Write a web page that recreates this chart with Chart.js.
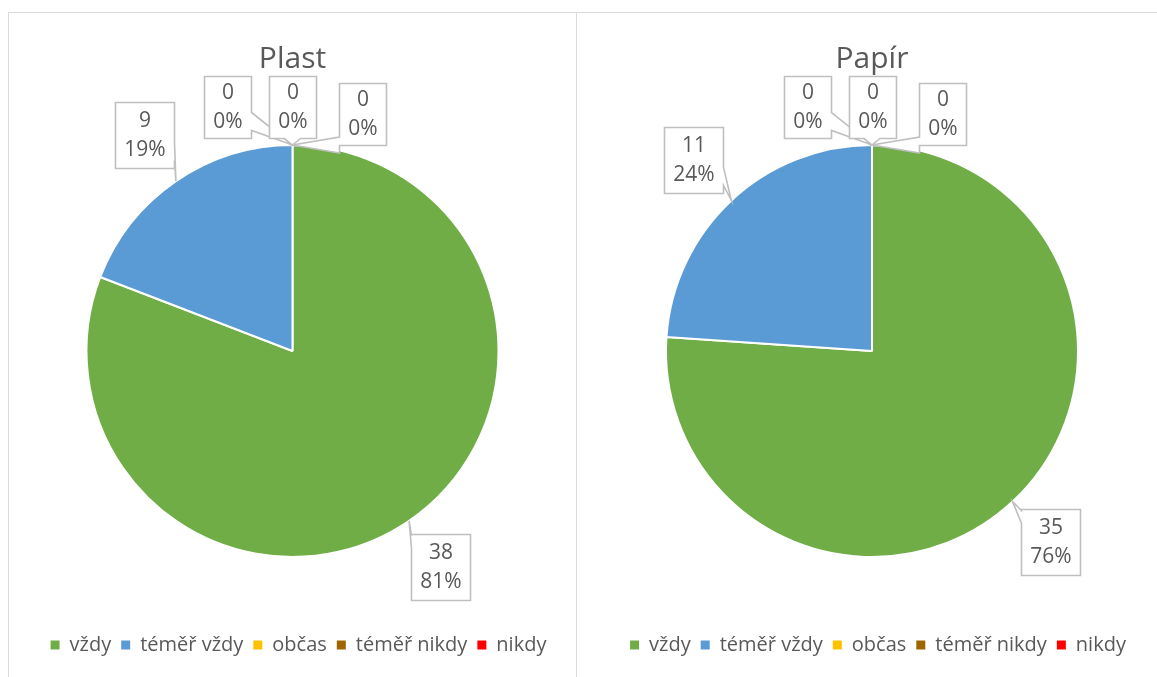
<!DOCTYPE html>
<html><head><meta charset="utf-8">
<script src="https://cdn.jsdelivr.net/npm/chart.js@4.4.1/dist/chart.umd.min.js"></script>
<style>
html,body{margin:0;padding:0;background:#fff;overflow:hidden;width:1157px;height:677px;position:relative;}
.panel{position:absolute;border:1px solid #d9d9d9;box-sizing:border-box;}
.box{position:absolute;}
</style></head><body>
<div class="panel" style="left:8px;top:12px;width:569px;height:700px"></div>
<div class="panel" style="left:576px;top:12px;width:620px;height:700px"></div>
<div class="box" style="left:8px;top:12px;width:569px;height:665px"><canvas id="c1"></canvas></div>
<div class="box" style="left:577px;top:12px;width:590px;height:665px"><canvas id="c2"></canvas></div>
<script>
const categories = ['vždy', 'téměř vždy', 'občas', 'téměř nikdy', 'nikdy'];
const plastValues = [38, 9, 0, 0, 0];
const papirValues = [35, 11, 0, 0, 0];
const chartTitles = ['Plast', 'Papír'];
const sliceColors = ['#70AD47', '#5B9BD5', '#FFC000', '#9E6500', '#FF0000'];

const TEXT = '#595959';
const FONT = '"Open Sans", "DejaVu Sans", sans-serif';
Chart.defaults.font.family = FONT;

const legendShift = {
  id: 'legendShift',
  afterLayout(chart) {
    const lg = chart.legend;
    if (lg) { lg.left += 6; lg.right += 6; }
  }
};

const callouts = {
  id: 'callouts',
  afterDraw(chart) {
    const ctx = chart.ctx;
    const meta = chart.getDatasetMeta(0);
    const data = chart.data.datasets[0].data;
    const total = data.reduce((a, b) => a + b, 0);
    const zeroOffsets = [[-65, -38], [0, -38], [70, -31]];
    let zi = 0;
    ctx.save();
    ctx.font = '21px ' + FONT;
    meta.data.forEach((arc, i) => {
      const p = arc.getProps(['x', 'y', 'startAngle', 'endAngle', 'outerRadius'], true);
      const v = data[i];
      const lines = [String(v), Math.round(v / total * 100) + '%'];
      const tw = Math.max(...lines.map(s => ctx.measureText(s).width));
      const bw = Math.round(tw + 18);
      const bh = v === 0 ? 62 : 66;
      let bx, by, tx, ty;
      if (v === 0) {
        const o = zeroOffsets[zi++] || [0, -38];
        tx = p.x + Math.cos(p.startAngle) * p.outerRadius;
        ty = p.y + Math.sin(p.startAngle) * p.outerRadius;
        bx = p.x + o[0];
        by = p.y - p.outerRadius + o[1];
      } else {
        const mid = (p.startAngle + p.endAngle) / 2;
        tx = p.x + Math.cos(mid) * p.outerRadius;
        ty = p.y + Math.sin(mid) * p.outerRadius;
        const d = p.outerRadius + 56;
        bx = p.x + Math.cos(mid) * d;
        by = p.y + Math.sin(mid) * d;
      }
      const L = Math.round(bx - bw / 2) + 0.5, R = L + bw;
      const T = Math.round(by - bh / 2) + 0.5, B = T + bh;
      let side;
      if (tx > R) side = 'right';
      else if (tx < L) side = 'left';
      else if (ty > B) side = 'bottom';
      else side = 'top';
      let b1, b2;
      if (side === 'right' || side === 'left') {
        if (ty > B) { b2 = B - 8; b1 = b2 - 18; }
        else if (ty < T) { b1 = T + 1; b2 = b1 + 13; }
        else { b1 = ty - 8; b2 = ty + 8; }
      } else {
        b1 = Math.max(L + 4, Math.min(R - 20, tx - 8));
        b2 = b1 + 16;
      }
      ctx.beginPath();
      ctx.moveTo(L, T);
      if (side === 'top') { ctx.lineTo(b1, T); ctx.lineTo(tx, ty); ctx.lineTo(b2, T); }
      ctx.lineTo(R, T);
      if (side === 'right') { ctx.lineTo(R, b1); ctx.lineTo(tx, ty); ctx.lineTo(R, b2); }
      ctx.lineTo(R, B);
      if (side === 'bottom') { ctx.lineTo(b2, B); ctx.lineTo(tx, ty); ctx.lineTo(b1, B); }
      ctx.lineTo(L, B);
      if (side === 'left') { ctx.lineTo(L, b2); ctx.lineTo(tx, ty); ctx.lineTo(L, b1); }
      ctx.closePath();
      ctx.fillStyle = '#ffffff';
      ctx.fill();
      ctx.strokeStyle = '#BFBFBF';
      ctx.lineWidth = 1.6;
      ctx.stroke();
      ctx.fillStyle = TEXT;
      ctx.textAlign = 'center';
      ctx.textBaseline = 'middle';
      const cy = (T + B) / 2;
      ctx.fillText(lines[0], (L + R) / 2, cy - 14);
      ctx.fillText(lines[1], (L + R) / 2, cy + 15);
    });
    ctx.restore();
  }
};

function makePie(id, title, values) {
  const defGen = Chart.overrides.pie.plugins.legend.labels.generateLabels;
  return new Chart(document.getElementById(id), {
    type: 'pie',
    data: {
      labels: categories,
      datasets: [{
        data: values,
        backgroundColor: sliceColors,
        borderColor: '#ffffff',
        borderWidth: 2,
        radius: 206
      }]
    },
    options: {
      responsive: true,
      maintainAspectRatio: false,
      animation: false,
      events: [],
      layout: { padding: { top: 0, left: 0, right: 0, bottom: 12 } },
      plugins: {
        tooltip: { enabled: false },
        title: {
          display: true,
          text: title,
          color: TEXT,
          font: { family: FONT, size: 30, weight: 'normal', lineHeight: 1.2 },
          padding: { top: 29, bottom: 0 }
        },
        legend: {
          position: 'bottom',
          labels: {
            boxWidth: 9,
            boxHeight: 9,
            padding: 10,
            color: TEXT,
            font: { family: FONT, size: 20 },
            generateLabels: (chart) => defGen(chart).map(l => Object.assign(l, { lineWidth: 0 }))
          }
        }
      }
    },
    plugins: [callouts, legendShift]
  });
}

makePie('c1', chartTitles[0], plastValues);
makePie('c2', chartTitles[1], papirValues);
</script>
</body></html>
